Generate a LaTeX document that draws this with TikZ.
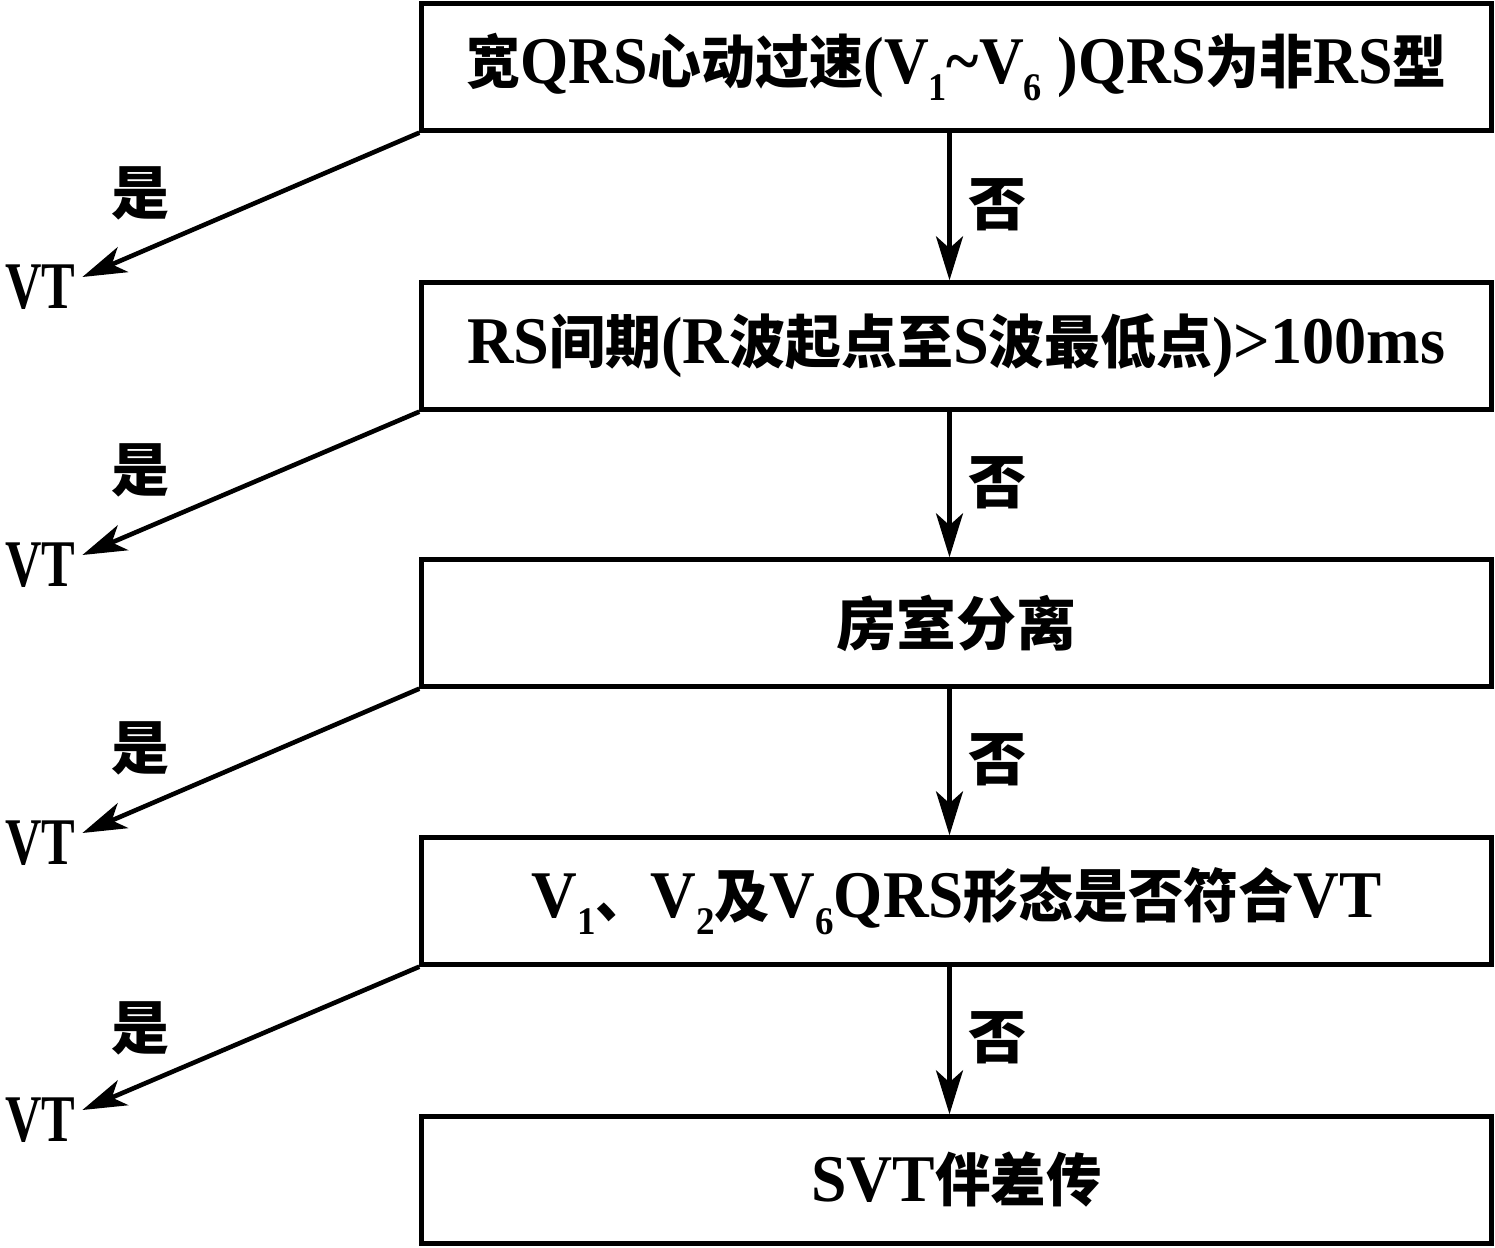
\documentclass[tikz,border=0pt]{standalone}
\usepackage{fontspec}
\setmainfont{Liberation Serif}[Scale=1.15]
\newfontfamily\cjkfont{Noto Sans CJK SC}
\usetikzlibrary{arrows.meta,calc}
\newsavebox\tbox
\newcommand\fitw[2]{\sbox\tbox{#2}\pgfmathsetmacro\myratio{#1/\wd\tbox}\scalebox{\myratio}[1]{\usebox\tbox}}
\newcommand\zh[1]{{\cjkfont #1}}
\newcommand\lowidx[1]{\raisebox{-0.25em}{\fontsize{17}{17}\selectfont #1}}
\tikzset{
  stepbox/.style={draw, line width=2.2pt, minimum width=535pt, minimum height=63.5pt, inner sep=0pt,
    font=\fontsize{29}{32}\selectfont\bfseries},
  lbl/.style={inner sep=0pt, font=\fontsize{29}{32}\selectfont\bfseries},
  arr/.style={line width=2.3pt, -{Stealth[length=22pt,width=13.5pt,inset=6pt]}},
}
\begin{document}
\begin{tikzpicture}[x=0.5pt,y=-0.5pt]
\useasboundingbox (0,0) rectangle (1495,1248);
\node[stepbox] (b1) at (956.5,67) {\fitw{490}{\zh{宽}QRS\zh{心动过速}(V\lowidx{1}\textasciitilde V\lowidx{6} )QRS\zh{为非}RS\zh{型}}};
\node[stepbox] (b2) at (956.5,346) {\fitw{489}{RS\zh{间期}(R\zh{波起点至}S\zh{波最低点})>100ms}};
\node[stepbox] (b3) at (956.5,623) {\fitw{120}{\zh{房室分离}}};
\node[stepbox] (b4) at (956.5,901) {\fitw{425}{V\lowidx{1}\zh{、}V\lowidx{2}\zh{及}V\lowidx{6}QRS\zh{形态是否符合}VT}};
\node[stepbox] (b5) at (956.5,1180) {\fitw{145}{SVT\zh{伴差传}}};

\foreach \i/\y in {1/287,2/565,3/843,4/1120}{
  \node[lbl] (vt\i) at (40,\y) {\fitw{35}{VT}};
}
\foreach \i/\y in {1/193,2/470,3/748,4/1028}{
  \node[lbl] (yes\i) at (140,\y) {\zh{是}};
}
\foreach \i/\y in {1/205,2/483,3/760,4/1038}{
  \node[lbl] (no\i) at (997,\y) {\zh{否}};
}
\foreach \i [count=\j from 2] in {1,2,3,4}{
  \draw[arr] ([xshift=-3.5pt]b\i.south) -- ([xshift=-3.5pt]b\j.north);
  \draw[arr] (b\i.south west) -- ([shift={(7,-10)}]vt\i.east);
}
\end{tikzpicture}
\end{document}
